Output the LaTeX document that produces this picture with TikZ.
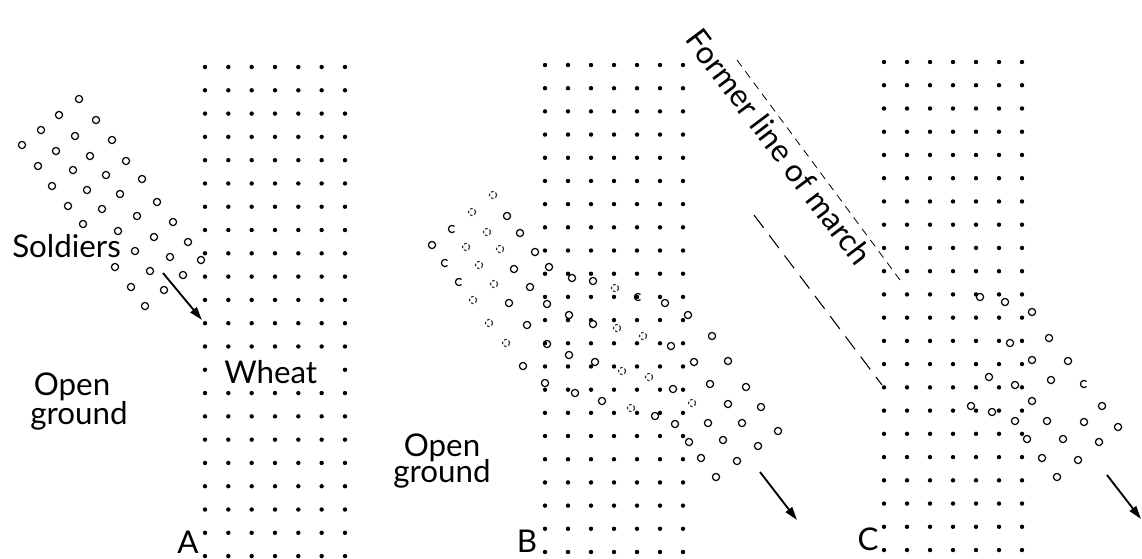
\documentclass[tikz,border=0pt]{standalone}
\usepackage{fontspec}
\setmainfont{Lato}
\usetikzlibrary{arrows.meta}
\begin{document}
\begin{tikzpicture}[x=0.75pt,y=-0.75pt,
  wheatdot/.style={fill=black},
  soldier/.style={draw=black,line width=0.9pt},
  faint/.style={draw=black!85,line width=0.85pt,dash pattern=on 2pt off 1.6pt},
  march/.style={line width=1.4pt,-{Triangle[length=10pt,width=6pt]}},
  lbl/.style={font=\fontsize{23.5}{28}\selectfont,inner sep=0pt},
  formerline/.style={line width=0.6pt,dash pattern=on 6pt off 4.5pt},
  trackline/.style={line width=0.8pt,dash pattern=on 12pt off 7pt}]
\fill[white] (0,0) rectangle (1142,558);
\useasboundingbox (0,0) rectangle (1142,558);
% ---------- wheat fields ----------
% A
\foreach \i in {0,...,6}{
  \foreach \j in {0,...,12}{\fill[wheatdot] ({205+\i*23.33},{67+\j*23.29}) circle[radius=1.65pt];}
  \foreach \j in {14,...,21}{\fill[wheatdot] ({205+\i*23.33},{67+\j*23.29}) circle[radius=1.65pt];}
}
\foreach \i in {0,6}{\fill[wheatdot] ({205+\i*23.33},{67+13*23.29}) circle[radius=1.65pt];}
% B
\foreach \i in {0,...,6}{\foreach \j in {0,...,21}{
  \fill[wheatdot] ({545+\i*23},{65+\j*23.19}) circle[radius=1.65pt];}}
% C
\foreach \i in {0,...,6}{\foreach \j in {0,...,21}{
  \fill[wheatdot] ({884+\i*23},{62+\j*23.24}) circle[radius=1.65pt];}}
% ---------- soldiers A ----------
\foreach \p in {(79,99),(59,115),(96,120),(41,130),(75,136),(112,140),(22,145),(56,151),(90,156),(126,161),(38,166),(73,170),(106,175),(142,179),(52,186),(87,190),(120,194),(157,202),(68,206),(102,209),(137,216),(173,222),(83,224),(118,231),(154,237),(188,242),(135,251),(170,257),(201,260),(115,267),(150,271),(183,275),(131,287),(164,290),(145,306)}
  \draw[soldier] \p circle[radius=2.7pt];
% ---------- soldiers B ----------
\foreach \p in {(507,216),(520,233),(432,245),(535,252),(514,269),(549,267),(530,287),(572,278),(593,281),(509,303),(547,304),(665,303),(569,315),(688,315),(527,325),(593,324),(712,336),(547,344),(671,346),(569,355),(595,362),(523,366),(694,362),(728,361),(545,383),(575,393),(602,401),(673,389),(710,384),(746,387),(728,404),(761,407),(655,416),(675,424),(708,423),(742,423),(778,431),(689,442),(723,440),(758,446),(701,458),(737,461),(716,477)}
  \draw[soldier] \p circle[radius=2.7pt];
\foreach \p in {(452,229),(445,263),(459,282),(638,297),(1084,384)}
  \draw[soldier] \p ++(45:2.7pt) arc[start angle=45,end angle=315,radius=2.7pt];
\foreach \p in {(493,195),(472,212),(487,232),(466,247),(500,249),(479,265),(494,284),(473,300),(489,323),(506,343),(615,288),(617,328),(643,336),(622,371),(649,377),(631,408),(692,403)}
  \draw[faint] \p circle[radius=2.7pt];
% ---------- soldiers C ----------
\foreach \p in {(980,297),(1005,302),(1032,312),(1049,338),(1010,343),(1032,360),(1068,361),(989,377),(1015,385),(1051,380),(1032,401),(971,406),(992,412),(1102,406),(1015,421),(1047,421),(1084,422),(1118,427),(1027,439),(1063,439),(1099,442),(1042,458),(1078,460),(1057,477)}
  \draw[soldier] \p circle[radius=2.7pt];
% ---------- arrows ----------
\coordinate (aS) at (163,273); \coordinate (aE) at (202,320);
\coordinate (bS) at (760,472); \coordinate (bE) at (797,520);
\coordinate (cS) at (1107,475); \coordinate (cE) at (1141,519);
\draw[march] (aS) -- (aE);
\draw[march] (bS) -- (bE);
\draw[march] (cS) -- (cE);
% ---------- former line of march ----------
\coordinate (f1) at (737,60); \coordinate (f2) at (900,280);
\coordinate (t1) at (754,215); \coordinate (t2) at (882,385);
\draw[formerline] (f1) -- (f2);
\draw[trackline] (t1) -- (t2);
\node[lbl,rotate=-53] (former) at (779,147) {Former line of march};
% ---------- labels ----------
\node[lbl,anchor=base west] (soldiers) at (12,257) {Soldiers};
\node[lbl,anchor=base west] (wheat) at (224,383) {Wheat};
\node[lbl,anchor=base] (openA) at (72,395) {Open};
\node[lbl,anchor=base] (groundA) at (79,424) {ground};
\node[lbl,anchor=base] (openB) at (442,456) {Open};
\node[lbl,anchor=base] (groundB) at (442,482) {ground};
\node[lbl,anchor=base] (labA) at (188,553) {A};
\node[lbl,anchor=base] (labB) at (527,552) {B};
\node[lbl,anchor=base] (labC) at (868,550) {C};
\end{tikzpicture}
\end{document}
